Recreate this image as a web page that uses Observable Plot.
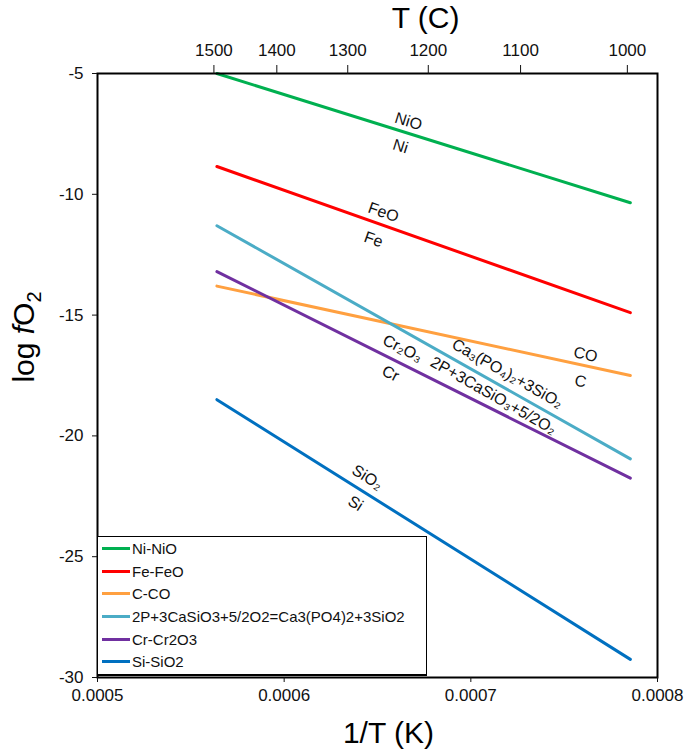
<!DOCTYPE html>
<html>
<head>
<meta charset="utf-8">
<script src="https://cdn.jsdelivr.net/npm/d3@7"></script>
<script src="https://cdn.jsdelivr.net/npm/@observablehq/plot@0.6"></script>
<style>
  html, body { margin: 0; padding: 0; background: #fff; }
  #wrap { position: relative; width: 685px; height: 750px; font-family: "Liberation Sans", Arial, sans-serif; }
  #ylab { position: absolute; left: 24px; top: 337px; transform: translate(-50%, -50%) rotate(-90deg); font-size: 30px; white-space: nowrap; color: #000; line-height: 1; }
  #ylab sub { font-size: 20px; vertical-align: -7px; line-height: 0; }
  #legend { position: absolute; left: 97px; top: 536px; width: 330px; height: 140px; border: 1.5px solid #000; border-bottom-width: 2px; background: #fff; box-sizing: border-box; padding-top: 0px; }
  .row { display: flex; align-items: center; height: 22.7px; font-size: 15px; color: #111; }
  .sw { width: 28px; height: 3px; margin-left: 4px; margin-right: 2px; }
</style>
</head>
<body>
<div id="wrap">
  <div id="chart"></div>
  <div id="ylab">log <i>f</i>O<sub>2</sub></div>
  <div id="legend"></div>
</div>
<script>
// ---- data ----
const series = ["Ni-NiO", "Fe-FeO", "C-CO", "2P+3CaSiO3+5/2O2=Ca3(PO4)2+3SiO2", "Cr-Cr2O3", "Si-SiO2"];
const colors = ["#00b050", "#ff0000", "#ffa040", "#4bacc6", "#7030a0", "#0070c0"];
const tempStartC = 1500;
const tempEndC = 1000;
const logfO2Start = [-5.0, -8.85, -13.8, -11.3, -13.2, -18.5];
const logfO2End = [-10.35, -14.9, -17.5, -20.95, -21.75, -29.25];

const topTicksC = [1500, 1400, 1300, 1200, 1100, 1000];
const bottomTicks = [0.0005, 0.0006, 0.0007, 0.0008];
const yTicks = [-5, -10, -15, -20, -25, -30];

// line annotations
const labelText = ["NiO", "Ni", "FeO", "Fe", "CO", "C", "Cr₂O₃", "Cr", "Ca₃(PO₄)₂+3SiO₂", "2P+3CaSiO₃+5/2O₂", "SiO₂", "Si"];
const labelSeries = [0, 0, 1, 1, 2, 2, 4, 4, 3, 3, 5, 5];
const labelX = [0.0006666, 0.0006623, 0.0006532, 0.0006479, 0.0007614, 0.0007587, 0.0006634, 0.000657, 0.0007196, 0.0007121, 0.0006446, 0.0006382];
const labelY = [-6.99, -8.02, -10.75, -11.87, -16.63, -17.75, -16.38, -17.42, -17.42, -18.33, -21.72, -22.8];

// ---- build ----
const toInvK = c => 1 / (c + 273.15);
const data = series.flatMap((s, i) => [
  {s, x: toInvK(tempStartC), y: logfO2Start[i]},
  {s, x: toInvK(tempEndC), y: logfO2End[i]}
]);

const W = 685, H = 750, mL = 97, mR = 28, mT = 73, mB = 73;
const xDomain = [0.0005, 0.0008], yDomain = [-30, -5];
const sx = d3.scaleLinear(xDomain, [mL, W - mR]);
const sy = d3.scaleLinear(yDomain, [H - mB, mT]);
const angle = series.map((s, i) => {
  const x0 = sx(toInvK(tempStartC)), x1 = sx(toInvK(tempEndC));
  const y0 = sy(logfO2Start[i]), y1 = sy(logfO2End[i]);
  return Math.atan2(y1 - y0, x1 - x0) * 180 / Math.PI;
});
const labels = labelText.map((t, i) => ({t, x: labelX[i], y: labelY[i], r: angle[labelSeries[i]]}));

const chart = Plot.plot({
  width: W, height: H,
  marginLeft: mL, marginRight: mR, marginTop: mT, marginBottom: mB,
  style: {fontFamily: "Liberation Sans, Arial, sans-serif", fontSize: "17px", color: "#111", background: "#fff"},
  x: {domain: xDomain},
  y: {domain: yDomain},
  color: {domain: series, range: colors},
  marks: [
    Plot.line(data, {x: "x", y: "y", z: "s", stroke: "s", strokeWidth: 3}),
    Plot.text(labels, {x: "x", y: "y", text: "t", rotate: "r", fontSize: 16, fill: "#111"}),
    Plot.frame({stroke: "#000", strokeWidth: 2}),
    Plot.axisY({ticks: yTicks, tickFormat: d => String(d), tickSize: 5, tickPadding: 9, label: null, fontSize: 17}),
    Plot.axisX({anchor: "bottom", ticks: bottomTicks, tickFormat: d => d.toFixed(4), tickSize: 5, tickPadding: 6, label: null, fontSize: 17}),
    Plot.axisX({anchor: "top", ticks: topTicksC.map(toInvK), tickFormat: d => String(Math.round(1 / d - 273.15)), tickSize: 9, tickPadding: 9, label: null, fontSize: 17, dx: -3}),
    Plot.text(["1/T (K)"], {frameAnchor: "bottom", lineAnchor: "middle", dy: 56, dx: 11, fontSize: 30, fill: "#000"}),
    Plot.text(["T (C)"], {frameAnchor: "top", lineAnchor: "middle", dy: -55, dx: 48, fontSize: 30, fill: "#000"})
  ]
});
document.getElementById("chart").appendChild(chart);

const legend = document.getElementById("legend");
series.forEach((s, i) => {
  const row = document.createElement("div");
  row.className = "row";
  const sw = document.createElement("span");
  sw.className = "sw";
  sw.style.background = colors[i];
  const lab = document.createElement("span");
  lab.textContent = s;
  row.appendChild(sw);
  row.appendChild(lab);
  legend.appendChild(row);
});
</script>
</body>
</html>
